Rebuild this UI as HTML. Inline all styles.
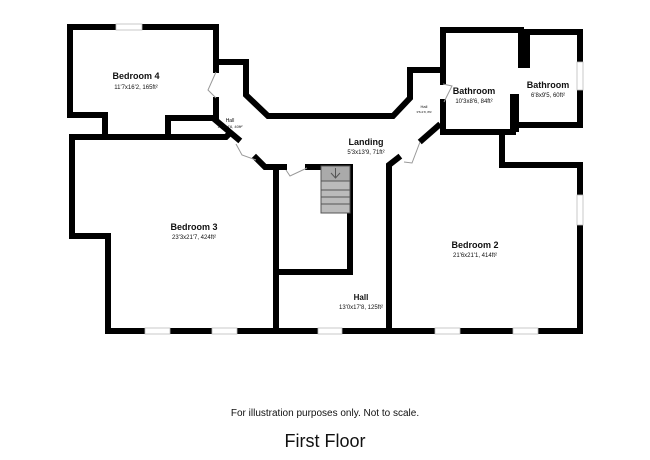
<!DOCTYPE html>
<html><head><meta charset="utf-8"><style>
html,body{margin:0;padding:0;background:#fff;}
svg{display:block;}
text{font-family:"Liberation Sans",Arial,sans-serif;fill:#111;}
</style></head><body>
<svg width="650" height="460" viewBox="0 0 650 460" xmlns="http://www.w3.org/2000/svg">
<g fill="none" stroke="#000" stroke-width="6" stroke-linejoin="miter" stroke-linecap="square">
<polyline points="216,70 216,27 70,27 70,115 105,115 105,137"/>
<polyline points="216,100 216,118"/>
<polyline points="216,62 246,62 246,95 268,116 393,116 410,98 410,70 443,70 443,82"/>
<polyline points="443,70 443,30"/>
<polyline points="168,137 168,118 213,118 238,139"/>
<polyline points="72,137 226,137 230,133"/>
<polyline points="72,137 72,236 108,236 108,331 580,331"/>
<polyline points="256,158 265,167 276,167 276,331"/>
<polyline points="276,167 284,167"/>
<polyline points="308,167 350,167 350,272 276,272"/>
<polyline points="443,102 443,132 513,132"/>
<polyline points="443,30 521,30 521,65 527,65 527,32 580,32 580,62"/>
<polyline points="580,90 580,125 515,125"/>
<polyline points="502,132 502,165 580,165 580,195"/>
<polyline points="580,225 580,331"/>
<polyline points="389,331 389,165 398,158"/>
<polyline points="438,126 422,140"/>
</g>
<rect x="510" y="94" width="9" height="38" fill="#000"/>
<g fill="#fff" stroke="#bbb" stroke-width="0.8">
<rect x="116" y="24" width="26" height="6"/>
<rect x="145" y="328" width="25" height="6"/>
<rect x="212" y="328" width="25" height="6"/>
<rect x="318" y="328" width="24" height="6"/>
<rect x="435" y="328" width="25" height="6"/>
<rect x="513" y="328" width="25" height="6"/>
<rect x="577" y="62" width="6" height="28"/>
<rect x="577" y="195" width="6" height="30"/>
</g>
<g fill="none" stroke="#999" stroke-width="1">
<polyline points="216,72 208,90 216,98"/>
<polyline points="236,144 242,155 256,160"/>
<polyline points="286,170 290,176 307,168"/>
<polyline points="443,84 452,86 444,102"/>
<polyline points="420,142 412,163 404,162"/>
</g>
<g stroke="#555" stroke-width="1" fill="#bbb">
<rect x="321" y="166" width="29" height="47"/>
<rect x="321" y="166" width="29" height="15" fill="#aaa"/>
<line x1="321" y1="190" x2="350" y2="190"/>
<line x1="321" y1="197" x2="350" y2="197"/>
<line x1="321" y1="204" x2="350" y2="204"/>
<polyline points="331,173 335.5,178 340,173" fill="none"/>
<line x1="335.5" y1="168" x2="335.5" y2="178"/>
</g>
<g text-anchor="middle">
<text x="136" y="79" font-size="9" font-weight="bold">Bedroom 4</text>
<text x="136" y="89" font-size="6">11'7x16'2, 165ft²</text>
<text x="230" y="122" font-size="5">Hall</text>
<text x="230" y="128" font-size="4">12'2x4'6, 40ft²</text>
<text x="366" y="145" font-size="9" font-weight="bold">Landing</text>
<text x="366" y="154" font-size="6">5'3x13'9, 71ft²</text>
<text x="424" y="108" font-size="4">Hall</text>
<text x="424" y="113" font-size="3">3'5x1'8, 8ft²</text>
<text x="474" y="94" font-size="9" font-weight="bold">Bathroom</text>
<text x="474" y="103" font-size="6">10'3x8'6, 84ft²</text>
<text x="548" y="88" font-size="9" font-weight="bold">Bathroom</text>
<text x="548" y="97" font-size="6">6'8x9'5, 60ft²</text>
<text x="194" y="230" font-size="9" font-weight="bold">Bedroom 3</text>
<text x="194" y="239" font-size="6">23'3x21'7, 424ft²</text>
<text x="475" y="248" font-size="9" font-weight="bold">Bedroom 2</text>
<text x="475" y="257" font-size="6">21'6x21'1, 414ft²</text>
<text x="361" y="300" font-size="8" font-weight="bold">Hall</text>
<text x="361" y="309" font-size="6">13'0x17'8, 125ft²</text>
<text x="325" y="416" font-size="10">For illustration purposes only. Not to scale.</text>
<text x="325" y="447" font-size="18">First Floor</text>
</g>
</svg>
</body></html>
